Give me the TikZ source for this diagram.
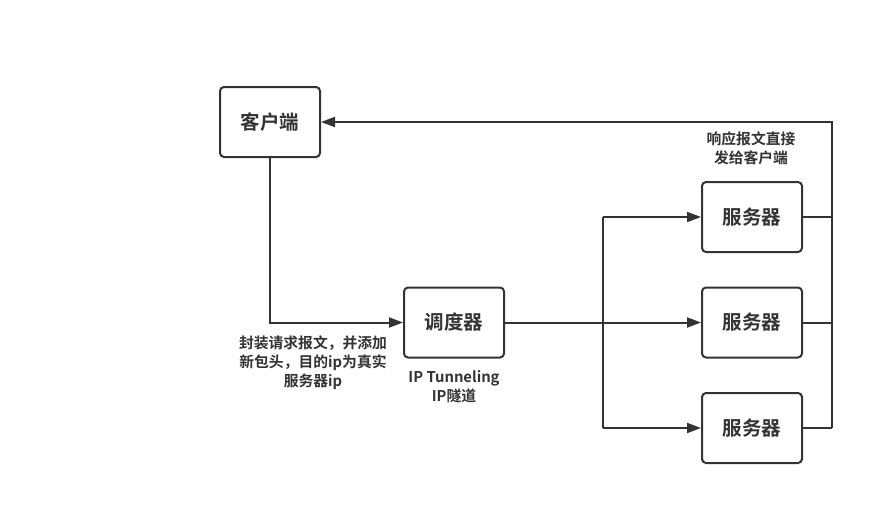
\documentclass[tikz,border=0pt]{standalone}
\usepackage{fontspec}
\setmainfont{Noto Sans CJK SC}[BoldFont={* Bold}]
\usetikzlibrary{arrows.meta}
\definecolor{ink}{HTML}{333333}
\tikzset{
  box/.style={draw=ink, line width=2pt, rounded corners=4pt, minimum width=100pt, minimum height=70pt, inner sep=0pt, font=\fontsize{19.5}{22}\selectfont\bfseries, text=ink},
  lbl/.style={font=\fontsize{14.8}{19}\selectfont\bfseries, text=ink, align=center, inner sep=0pt},
  conn/.style={draw=ink, line width=2pt},
  arr/.style={conn, -{Triangle[length=14pt,width=10pt]}}
}
\begin{document}
\begin{tikzpicture}[x=1pt,y=-1pt]
\useasboundingbox (0,0) rectangle (894,525);
\fill[white] (0,0) rectangle (894,525);
\node[box] (client) at (270,122) {客户端};
\node[box] (sched) at (454,322.5) {调度器};
\node[box] (s1) at (752,217) {服务器};
\node[box] (s2) at (752,322.5) {服务器};
\node[box] (s3) at (752,428) {服务器};
\coordinate (bt) at (603,217);
\coordinate (bb) at (603,428);
\coordinate (rt) at (832,122);
\coordinate (rb) at (832,428);
\draw[arr] (client.south) |- (sched.west);
\draw[arr] (sched.east) -- (s2.west);
\draw[conn] (bt) -- (bb);
\draw[arr] (bt) -- (s1.west);
\draw[arr] (bb) -- (s3.west);
\draw[conn] (s1.east) -- (s1.east -| rt);
\draw[conn] (s2.east) -- (s2.east -| rt);
\draw[conn] (s3.east) -- (rb);
\draw[arr] (rb) -- (rt) -- (client.east);
\node[lbl] (t1) at (751,148) {响应报文直接\\发给客户端};
\node[lbl] (t2) at (313,363) {封装请求报文，并添加\\新包头，目的ip为真实\\服务器ip};
\node[lbl] (t3) at (454,387) {IP Tunneling\\IP隧道};
\end{tikzpicture}
\end{document}
